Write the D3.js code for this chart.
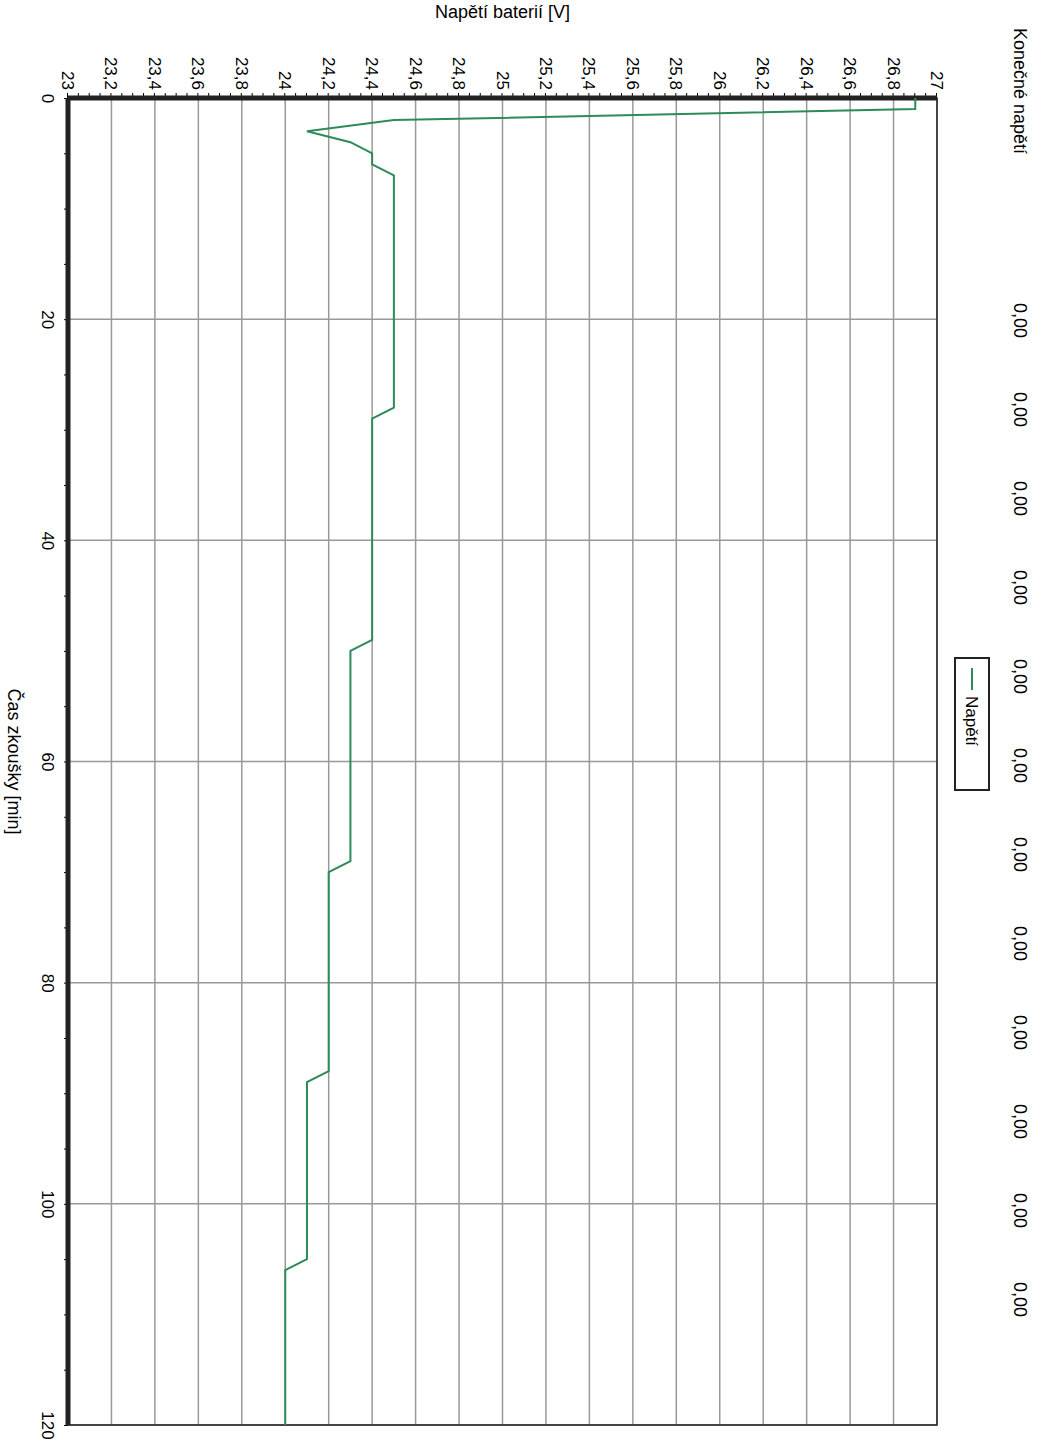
<!DOCTYPE html>
<html><head><meta charset="utf-8">
<script src="https://cdn.jsdelivr.net/npm/d3@7"></script>
<style>body{margin:0;background:#fff}text{font-family:"Liberation Sans",Arial,sans-serif}</style>
</head><body>
<svg class="canvas"></svg>
<script>
const times = [0, 1, 2, 3, 4, 5, 6, 7, 28, 29, 49, 50, 69, 70, 88, 89, 105, 106, 120];
const volts = [26.9, 26.9, 24.5, 24.1, 24.3, 24.4, 24.4, 24.5, 24.5, 24.4, 24.4, 24.3, 24.3, 24.2, 24.2, 24.1, 24.1, 24.0, 24.0];
const voltTicks = d3.range(23, 27.001, 0.2);
const timeTicks = [0, 20, 40, 60, 80, 100, 120];
const finalValues = ["0,00","0,00","0,00","0,00","0,00","0,00","0,00","0,00","0,00","0,00","0,00","0,00"];

const w = 1052, h = 1448;
const svg = d3.select("svg.canvas").attr("width", w).attr("height", h);

// chart drawn unrotated then turned 90deg clockwise
const pw = 1327, ph = 869;
const g = svg.append("g").attr("transform", "translate(937,98) rotate(90)");

const x = d3.scaleLinear().domain([0, 120]).range([0, pw]);
const y = d3.scaleLinear().domain([23, 27]).range([ph, 0]);
const fmt = v => (Math.round(v * 10) / 10).toString().replace(".", ",");

// grid
g.append("g").selectAll("line").data(voltTicks).enter().append("line")
  .attr("x1", 0).attr("x2", pw).attr("y1", d => y(d)).attr("y2", d => y(d))
  .attr("stroke", "#999").attr("stroke-width", 1.5);
g.append("g").selectAll("line").data(timeTicks).enter().append("line")
  .attr("y1", 0).attr("y2", ph).attr("x1", d => x(d)).attr("x2", d => x(d))
  .attr("stroke", "#999").attr("stroke-width", 1.5);

// axes
const yAxis = d3.axisLeft(y).tickValues(voltTicks).tickFormat(fmt).tickSize(0).tickPadding(8);
const ya = g.append("g").call(yAxis);
ya.selectAll("text").style("font-size", "17px");
g.append("g").call(d3.axisLeft(y).ticks(80).tickFormat("").tickSize(5)).select(".domain").remove();

const xAxis = d3.axisBottom(x).tickValues(timeTicks).tickSize(0).tickPadding(14);
const xa = g.append("g").attr("transform", "translate(0," + ph + ")").call(xAxis);
xa.selectAll("text").style("font-size", "17px");
g.append("g").attr("transform", "translate(0," + ph + ")")
  .call(d3.axisBottom(x).ticks(24).tickFormat("").tickSize(4)).select(".domain").remove();
g.selectAll(".domain").remove();

// frame
g.append("rect").attr("width", pw).attr("height", ph).attr("fill", "none").attr("stroke", "#222").attr("stroke-width", 1.5);
g.append("line").attr("x1", 0).attr("x2", 0).attr("y1", 0).attr("y2", ph).attr("stroke", "#222").attr("stroke-width", 5);
g.append("line").attr("x1", 0).attr("x2", pw).attr("y1", ph).attr("y2", ph).attr("stroke", "#222").attr("stroke-width", 5);

// line
const pts = times.map((t, i) => [t, volts[i]]);
g.append("path").datum(pts).attr("fill", "none").attr("stroke", "#2e8b57").attr("stroke-width", 2)
  .attr("d", d3.line().x(d => x(d[0])).y(d => y(d[1])));

// titles
g.append("text").attr("transform", "translate(-80," + (ph / 2) + ") rotate(-90)")
  .attr("text-anchor", "middle").style("font-size", "18px").text("Napětí baterií [V]");
g.append("text").attr("x", pw / 2).attr("y", ph + 60).attr("text-anchor", "middle")
  .style("font-size", "18px").text("Čas zkoušky [min]");

// legend
g.append("rect").attr("x", 560).attr("y", -52).attr("width", 132).attr("height", 34)
  .attr("fill", "#fff").attr("stroke", "#222").attr("stroke-width", 2);
g.append("line").attr("x1", 570).attr("x2", 592).attr("y1", -35).attr("y2", -35).attr("stroke", "#2e8b57").attr("stroke-width", 2);
g.append("text").attr("x", 598).attr("y", -29).style("font-size", "17px").text("Napětí");

// final voltage column
g.append("text").attr("x", -70).attr("y", -77).style("font-size", "18px").text("Konečné napětí");
g.append("g").selectAll("text").data(finalValues).enter().append("text")
  .attr("x", (d, i) => 205 + i * 89).attr("y", -77).style("font-size", "18px").text(d => d);
</script>
</body></html>
